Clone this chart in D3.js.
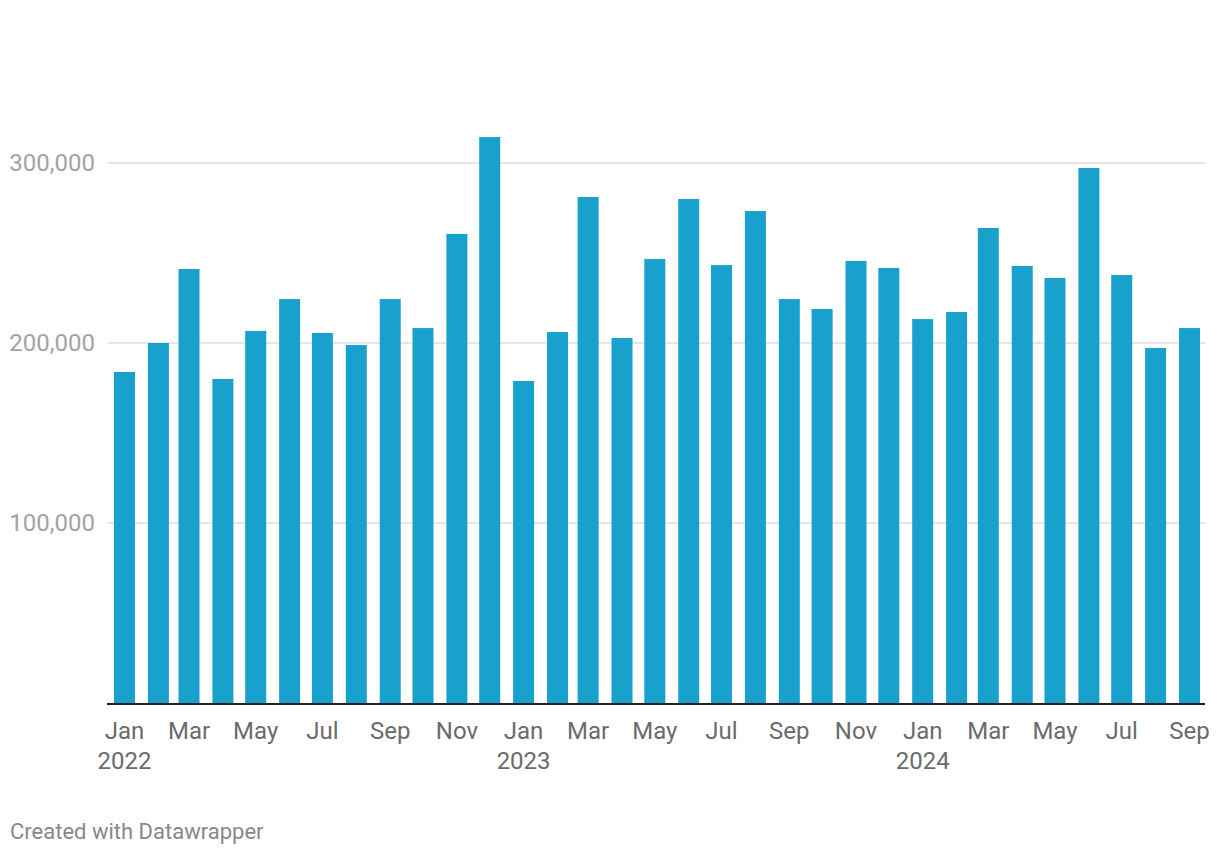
<!DOCTYPE html>
<html><head><meta charset="utf-8">
<script src="https://cdn.jsdelivr.net/npm/d3@7"></script>
<style>
html,body{margin:0;padding:0;background:#fff;}
svg{display:block;font-family:Roboto, "Noto Sans", sans-serif;}
</style></head>
<body><svg id="chart" width="1220" height="856"></svg>
<script>
const months = ["2022-01","2022-02","2022-03","2022-04","2022-05","2022-06","2022-07","2022-08","2022-09","2022-10","2022-11","2022-12",
"2023-01","2023-02","2023-03","2023-04","2023-05","2023-06","2023-07","2023-08","2023-09","2023-10","2023-11","2023-12",
"2024-01","2024-02","2024-03","2024-04","2024-05","2024-06","2024-07","2024-08","2024-09"];
const values = [183900,200000,241100,180000,206700,224400,205600,198900,224400,208300,260600,314400,
178900,206100,281100,202800,246700,280000,243300,273300,224400,218900,245600,241700,
213300,217200,263900,242800,236100,297200,237800,197200,208300];
const yTicks = [100000,200000,300000];
const footer = "Created with Datawrapper";

const parse = d3.timeParse("%Y-%m");
const dates = months.map(parse);
const svg = d3.select("#chart");

const x = d3.scaleTime().domain([dates[0], dates[dates.length-1]]).range([124.5, 1189.5]);
const y = d3.scaleLinear().domain([0, 300000]).range([703, 163]);
const barW = 21;

// gridlines
svg.append("g").selectAll("line").data(yTicks).join("line")
  .attr("x1", 108).attr("x2", 1205)
  .attr("y1", d => y(d)).attr("y2", d => y(d))
  .attr("stroke", "#e6e6e6").attr("stroke-width", 2);

// y labels
svg.append("g").selectAll("text").data(yTicks).join("text")
  .attr("x", 95).attr("y", d => y(d)).attr("dy", "0.35em")
  .attr("text-anchor", "end").attr("fill", "#a3a3a3")
  .attr("font-size", 24).text(d => d3.format(",")(d));

// bars
svg.append("g").selectAll("rect").data(values).join("rect")
  .attr("x", (d,i) => x(dates[i]) - barW/2)
  .attr("width", barW)
  .attr("y", d => y(d))
  .attr("height", d => y(0) - y(d))
  .attr("fill", "#18a1cd");

// baseline
svg.append("line").attr("x1", 107).attr("x2", 1205).attr("y1", 704).attr("y2", 704)
  .attr("stroke", "#222").attr("stroke-width", 2);

// x axis labels
const tickDates = dates.filter(d => d.getMonth() % 2 === 0);
const xl = svg.append("g").selectAll("text").data(tickDates).join("text")
  .attr("x", d => x(d)).attr("y", 739)
  .attr("text-anchor", "middle").attr("fill", "#6b6b6b").attr("font-size", 24);
xl.append("tspan").attr("x", d => x(d)).text(d => d3.timeFormat("%b")(d));
xl.filter(d => d.getMonth() === 0).append("tspan")
  .attr("x", d => x(d)).attr("dy", 30).text(d => d3.timeFormat("%Y")(d));

// footer
svg.append("text").attr("x", 10).attr("y", 839).attr("fill", "#888")
  .attr("font-size", 22).text(footer);
</script></body></html>
